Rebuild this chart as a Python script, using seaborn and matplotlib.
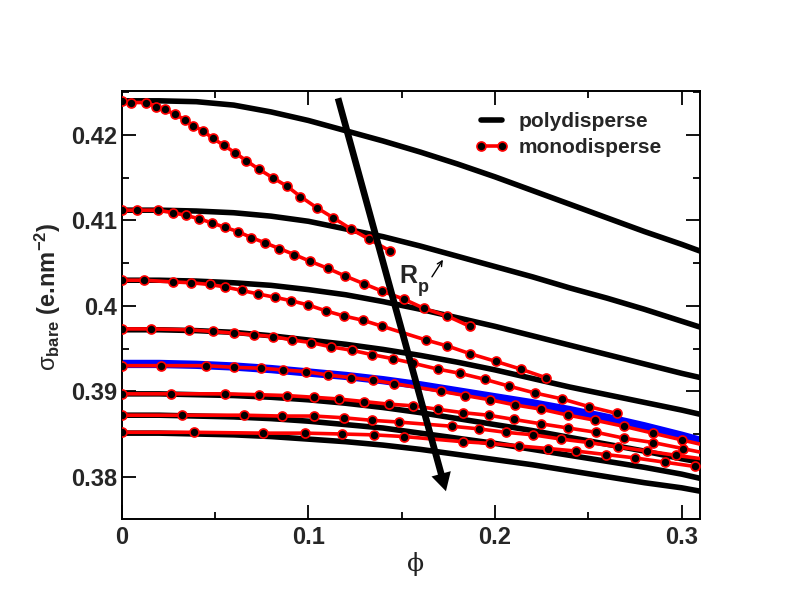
import matplotlib
matplotlib.use("Agg")
import matplotlib.pyplot as plt
from matplotlib.lines import Line2D
from matplotlib.ticker import MultipleLocator
import seaborn as sns

# ---------------- data ----------------
poly_x = [0.0, 0.02, 0.04, 0.06, 0.08, 0.10, 0.12, 0.14, 0.16, 0.18, 0.20, 0.22, 0.24,
          0.26, 0.28, 0.30, 0.31]
poly1 = [0.4240, 0.4240, 0.4239, 0.4235, 0.4227, 0.4217, 0.4205, 0.4193, 0.4180, 0.4166,
         0.4151, 0.4135, 0.4119, 0.4103, 0.4087, 0.4072, 0.4064]
poly2 = [0.4112, 0.4112, 0.4111, 0.4109, 0.4105, 0.4099, 0.4090, 0.4081, 0.4070, 0.4058,
         0.4046, 0.4034, 0.4021, 0.4009, 0.3996, 0.3982, 0.3975]
poly3 = [0.4030, 0.4030, 0.4029, 0.4027, 0.4024, 0.4019, 0.4013, 0.4005, 0.3996, 0.3986,
         0.3976, 0.3965, 0.3954, 0.3943, 0.3932, 0.3921, 0.3916]
poly4 = [0.3972, 0.3972, 0.3971, 0.3969, 0.3965, 0.3960, 0.3955, 0.3949, 0.3942, 0.3934,
         0.3925, 0.3915, 0.3905, 0.3896, 0.3887, 0.3878, 0.3873]
poly5 = [0.3932, 0.3932, 0.3931, 0.3929, 0.3926, 0.3922, 0.3918, 0.3913, 0.3907, 0.3900,
         0.3893, 0.3886, 0.3878, 0.3869, 0.3859, 0.3848, 0.3842]  # blue
poly6 = [0.3897, 0.3897, 0.3896, 0.3895, 0.3893, 0.3890, 0.3886, 0.3881, 0.3875, 0.3868,
         0.3861, 0.3854, 0.3846, 0.3838, 0.3830, 0.3821, 0.3817]
poly7 = [0.3872, 0.3872, 0.3871, 0.3870, 0.3868, 0.3865, 0.3861, 0.3857, 0.3851, 0.3845,
         0.3839, 0.3832, 0.3825, 0.3818, 0.3811, 0.3803, 0.3798]
poly8 = [0.3851, 0.3851, 0.3850, 0.3849, 0.3847, 0.3844, 0.3841, 0.3837, 0.3832, 0.3826,
         0.3820, 0.3814, 0.3807, 0.3800, 0.3793, 0.3787, 0.3783]

mono1_x = [0, 0.0052, 0.0132, 0.0185, 0.023, 0.0287, 0.0337, 0.0381, 0.0435, 0.0488, 0.0547,
           0.0608, 0.0667, 0.0734, 0.0809, 0.0886, 0.0957, 0.1044, 0.1134, 0.1228, 0.1326, 0.1439]
mono1_y = [0.4240, 0.4238, 0.4238, 0.4233, 0.4230, 0.4224, 0.4218, 0.4211, 0.4205, 0.4196, 0.4188,
           0.4179, 0.4170, 0.4160, 0.4150, 0.4140, 0.4128, 0.4115, 0.4103, 0.4090, 0.4078, 0.4064]

mono2_x = [0, 0.0082, 0.0194, 0.0275, 0.0342, 0.0414, 0.0485, 0.0551, 0.0622, 0.0693, 0.0765,
           0.0845, 0.0925, 0.1011, 0.1103, 0.1196, 0.1296, 0.1397, 0.1510, 0.1620, 0.1745, 0.1865]
mono2_y = [0.4112, 0.4112, 0.4112, 0.4109, 0.4106, 0.4102, 0.4097, 0.4092, 0.4087, 0.4080, 0.4074,
           0.4067, 0.4060, 0.4052, 0.4044, 0.4035, 0.4026, 0.4017, 0.4008, 0.3997, 0.3988, 0.3976]

mono3_x = [0, 0.0119, 0.0275, 0.0372, 0.0471, 0.0556, 0.0644, 0.0729, 0.0822, 0.0907, 0.1000,
           0.1095, 0.1193, 0.1294, 0.1397, 0.1630, 0.1745, 0.1866, 0.2004, 0.2137, 0.2271]
mono3_y = [0.4030, 0.4030, 0.4028, 0.4027, 0.4025, 0.4022, 0.4018, 0.4014, 0.4010, 0.4006, 0.4001,
           0.3994, 0.3988, 0.3983, 0.3976, 0.3960, 0.3953, 0.3944, 0.3935, 0.3926, 0.3916]

mono4_x = [0, 0.0159, 0.0358, 0.0488, 0.0604, 0.0711, 0.0813, 0.0913, 0.1014, 0.1121, 0.1232,
           0.1339, 0.1455, 0.1558, 0.1692, 0.1813, 0.1945, 0.2075, 0.2214, 0.2360, 0.2503, 0.2654]
mono4_y = [0.3973, 0.3973, 0.3972, 0.3970, 0.3968, 0.3966, 0.3964, 0.3960, 0.3957, 0.3952, 0.3948,
           0.3943, 0.3938, 0.3933, 0.3926, 0.3921, 0.3914, 0.3906, 0.3898, 0.3891, 0.3882, 0.3874]

mono5_x = [0, 0.0209, 0.0453, 0.0604, 0.0747, 0.0866, 0.0988, 0.1107, 0.1228, 0.1344, 0.1460,
           0.1710, 0.1840, 0.1973, 0.2107, 0.2248, 0.2392, 0.2538, 0.2690, 0.2845, 0.3002, 0.3160]
mono5_y = [0.3930, 0.3930, 0.3930, 0.3928, 0.3927, 0.3925, 0.3923, 0.3919, 0.3916, 0.3913, 0.3909,
           0.3900, 0.3895, 0.3890, 0.3884, 0.3879, 0.3872, 0.3866, 0.3859, 0.3851, 0.3843, 0.3835]

mono6_x = [0, 0.0262, 0.0551, 0.0734, 0.0884, 0.1029, 0.1162, 0.1296, 0.1430, 0.1558, 0.1692,
           0.1826, 0.1965, 0.2102, 0.2244, 0.2392, 0.2542, 0.2693, 0.2847, 0.3005, 0.3160]
mono6_y = [0.3897, 0.3897, 0.3897, 0.3896, 0.3895, 0.3893, 0.3891, 0.3888, 0.3885, 0.3883, 0.3879,
           0.3875, 0.3872, 0.3867, 0.3862, 0.3857, 0.3852, 0.3845, 0.3840, 0.3833, 0.3826]

mono7_x = [0, 0.0323, 0.0654, 0.0857, 0.1032, 0.1189, 0.1339, 0.1483, 0.1772, 0.1914, 0.2057,
           0.2205, 0.2355, 0.2503, 0.2658, 0.2815, 0.2971, 0.3140]
mono7_y = [0.3872, 0.3872, 0.3872, 0.3871, 0.3871, 0.3869, 0.3866, 0.3864, 0.3859, 0.3856, 0.3852,
           0.3849, 0.3844, 0.3840, 0.3835, 0.3830, 0.3825, 0.3820]

mono8_x = [0, 0.0387, 0.0756, 0.0984, 0.1178, 0.1349, 0.1513, 0.1826, 0.1973, 0.2128, 0.2285,
           0.2435, 0.2592, 0.2749, 0.2909, 0.3070, 0.3230]
mono8_y = [0.3852, 0.3852, 0.3851, 0.3851, 0.3850, 0.3849, 0.3847, 0.3841, 0.3839, 0.3836, 0.3833,
           0.3830, 0.3826, 0.3822, 0.3817, 0.3812, 0.3806]

x_ticks = [0.0, 0.1, 0.2, 0.3]
x_tick_labels = ["0", "0.1", "0.2", "0.3"]
y_ticks = [0.38, 0.39, 0.40, 0.41, 0.42]
y_tick_labels = ["0.38", "0.39", "0.4", "0.41", "0.42"]
legend_labels = ["polydisperse", "monodisperse"]

# ---------------- style ----------------
sns.set_theme(style="ticks")
plt.rcParams["font.family"] = ["Liberation Sans", "DejaVu Sans"]
plt.rcParams["mathtext.fontset"] = "custom"
plt.rcParams["mathtext.rm"] = "Liberation Sans"
plt.rcParams["mathtext.bf"] = "Liberation Sans:bold"
plt.rcParams["mathtext.it"] = "Liberation Sans:italic"
plt.rcParams["mathtext.sf"] = "Liberation Sans"

fig = plt.figure(figsize=(7.92, 6.12), dpi=100)
fig.patch.set_facecolor("white")
ax = fig.add_axes([121.7 / 792, 1 - 519 / 612, (700 - 121.7) / 792, (519 - 91) / 612])
ax.set_facecolor("white")

poly_lw = 4.0
for ys in [poly1, poly2, poly3, poly4, poly6, poly7, poly8]:
    sns.lineplot(x=poly_x, y=ys, ax=ax, color="black", lw=poly_lw, sort=False,
                 estimator=None, errorbar=None, legend=False, zorder=2)
sns.lineplot(x=poly_x, y=poly5, ax=ax, color="#0000ff", lw=6.0, sort=False,
             estimator=None, errorbar=None, legend=False, zorder=2)

mono = [(mono1_x, mono1_y), (mono2_x, mono2_y), (mono3_x, mono3_y), (mono4_x, mono4_y),
        (mono5_x, mono5_y), (mono6_x, mono6_y), (mono7_x, mono7_y), (mono8_x, mono8_y)]
mkw = dict(color="red", lw=2.6, marker="o", markersize=6.5, markerfacecolor="black",
           markeredgecolor="red", markeredgewidth=1.2)
for xs, ys in mono:
    sns.lineplot(x=xs, y=ys, ax=ax, sort=False, estimator=None, errorbar=None,
                 legend=False, zorder=3, **mkw)

# ---------------- axes ----------------
ax.set_xlim(0, 0.3098)
ax.set_ylim(0.37505, 0.42515)
ax.set_xticks(x_ticks)
ax.set_xticklabels(x_tick_labels)
ax.set_yticks(y_ticks)
ax.set_yticklabels(y_tick_labels)
ax.xaxis.set_minor_locator(MultipleLocator(0.05))
ax.yaxis.set_minor_locator(MultipleLocator(0.005))
ax.tick_params(which="both", direction="in", top=True, right=True, width=1.3, color="black")
ax.tick_params(which="major", length=10)
ax.tick_params(which="minor", length=5)
ax.tick_params(axis="x", which="major", pad=5, labelsize=17)
ax.tick_params(axis="y", which="major", pad=3.5, labelsize=17)
for lab in ax.get_xticklabels() + ax.get_yticklabels():
    lab.set_fontweight("bold")
for sp in ax.spines.values():
    sp.set_linewidth(1.4)
    sp.set_color("black")
ax.grid(False)

ax.set_xlabel("ϕ", family="DejaVu Serif", fontsize=18, color="#222222")
ax.xaxis.set_label_coords(0.509, -0.078)
ax.set_ylabel(r"$\mathrm{\sigma}_{\mathbf{bare}}$ (e.nm$^{\mathbf{-2}}$)", fontsize=17,
              fontweight="bold")
ax.yaxis.set_label_coords(-0.102, 0.519)

# ---------------- legend ----------------
handles = [Line2D([], [], color="black", lw=poly_lw),
           Line2D([], [], **mkw)]
ax.legend(handles, legend_labels, loc="upper left", bbox_to_anchor=(0.611, 0.950),
          frameon=False, borderpad=0, borderaxespad=0, handlelength=1.6,
          handletextpad=0.5, labelspacing=0.33, numpoints=2,
          prop={"weight": "bold", "size": 15})

# ---------------- annotations ----------------
ax.annotate("", xy=(0.1737, 0.3783), xytext=(0.1159, 0.4243),
            arrowprops=dict(arrowstyle="simple,head_length=0.65,head_width=0.72,tail_width=0.24",
                            mutation_scale=20, fc="black", ec="black", lw=0,
                            shrinkA=0, shrinkB=0), zorder=5)
ax.text(0.149, 0.4027, "R", fontsize=18, fontweight="bold", ha="left", va="baseline", zorder=6)
ax.text(0.1587, 0.4016, "p", fontsize=13, fontweight="bold", ha="left", va="baseline", zorder=6)
ax.annotate("", xy=(0.1721, 0.4054), xytext=(0.1662, 0.4034),
            arrowprops=dict(arrowstyle="->", lw=1.0, color="black", shrinkA=0, shrinkB=0,
                            mutation_scale=9), zorder=6)

fig.savefig("out.png", dpi=100, facecolor="white")
